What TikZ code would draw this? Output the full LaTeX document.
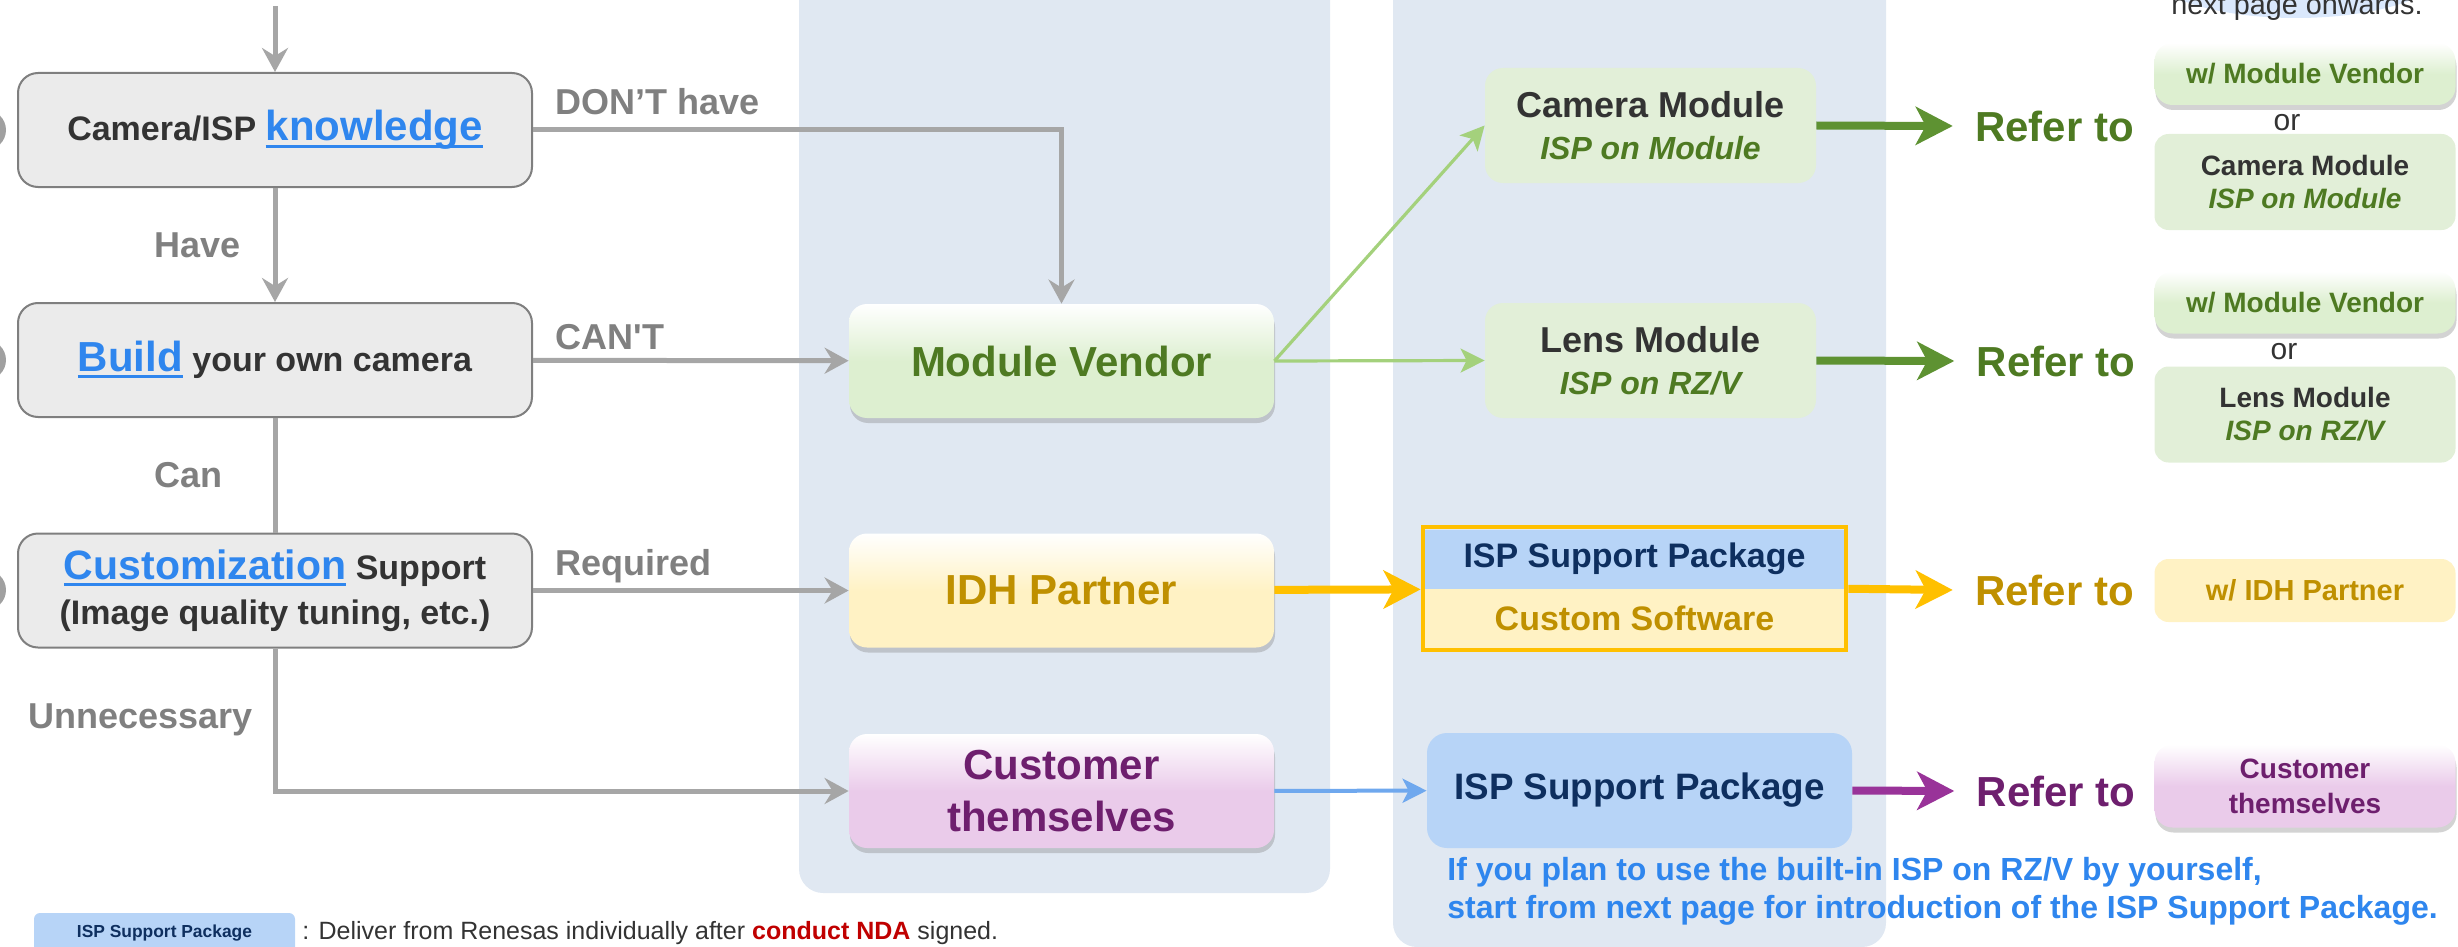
\documentclass[tikz,border=0pt]{standalone}
\usepackage{fontspec}
\setmainfont{Liberation Sans}
\usetikzlibrary{arrows.meta,shadows,fit,positioning}
\definecolor{panelbg}{HTML}{E0E8F2}
\definecolor{boxgray}{HTML}{EBEBEB}
\definecolor{edgegray}{HTML}{7F7F7F}
\definecolor{linegray}{HTML}{A6A6A6}
\definecolor{dotgray}{HTML}{A0A0A0}
\definecolor{txtgray}{HTML}{808080}
\definecolor{txtdark}{HTML}{333333}
\definecolor{linkblue}{HTML}{2F86EE}
\definecolor{mvfill}{HTML}{DDEFD0}
\definecolor{mpale}{HTML}{E2EFD8}
\definecolor{mvtext}{HTML}{4E7A22}
\definecolor{grnarrow}{HTML}{A4D17C}
\definecolor{grndark}{HTML}{5E9232}
\definecolor{idhfill}{HTML}{FFF2C4}
\definecolor{idhtext}{HTML}{BF9000}
\definecolor{amber}{HTML}{FFC000}
\definecolor{selffill}{HTML}{EACBEA}
\definecolor{selftext}{HTML}{6E1F6E}
\definecolor{purparrow}{HTML}{993399}
\definecolor{pkgfill}{HTML}{B7D4F7}
\definecolor{pkgtext}{HTML}{0E2F5F}
\definecolor{bluearrow}{HTML}{6FA8EE}
\definecolor{ndared}{HTML}{C00000}
\definecolor{bubble}{HTML}{DAE8FC}
\newcommand\linktext[1]{{\color{linkblue}\setbox0\hbox{#1}\rlap{\rule[-0.2em]{\wd0}{0.09em}}\box0}}
\tikzset{>={Stealth[length=12pt,width=13pt,inset=4pt]},
  qbox/.style={draw=edgegray,line width=1pt,fill=boxgray,rounded corners=10pt,
    minimum width=257pt,minimum height=57pt,align=center,text=txtdark,
    font=\bfseries\fontsize{17}{22.5}\selectfont},
  gloss/.style={rounded corners=9pt,top color=white,bottom color=#1,middle color=#1,
    drop shadow={shadow xshift=0.5pt,shadow yshift=-2.5pt,opacity=0.35}},
  vbox/.style={gloss=#1,minimum width=212.5pt,minimum height=57pt,align=center,
    font=\bfseries\fontsize{21}{26}\selectfont},
  mbox/.style={fill=mpale,rounded corners=9pt,minimum width=165.5pt,minimum height=57.5pt,
    align=center,text=txtdark,font=\bfseries\fontsize{18}{21}\selectfont},
  rbox/.style={rounded corners=7pt,minimum width=150.5pt,align=center,
    font=\bfseries\fontsize{14}{16.5}\selectfont},
  pkgbox/.style={fill=pkgfill,rounded corners=10pt,minimum width=212.5pt,minimum height=57.5pt,
    text=pkgtext,font=\bfseries\fontsize{18.4}{22}\selectfont},
  halfbox/.style={fill=#1,minimum width=209.5pt,minimum height=29.5pt,inner sep=0pt,
    font=\bfseries\fontsize{17}{20}\selectfont},
  lbl/.style={text=txtgray,inner sep=0pt,font=\bfseries\fontsize{18}{21}\selectfont},
  refto/.style={text=#1,inner xsep=11pt,inner ysep=2pt,font=\bfseries\fontsize{21}{25}\selectfont},
  orlbl/.style={text=txtdark,inner sep=0pt,font=\fontsize{15}{18}\selectfont},
  garrow/.style={draw=linegray,line width=2.5pt,->},
  gline/.style={draw=linegray,line width=2.5pt},
  larrow/.style={draw=#1,line width=1.6pt,-{Stealth[length=12pt,width=12pt,inset=3pt]}},
  fatarrow/.style={draw=#1,line width=4pt,-{Stealth[length=18.5pt,width=19pt,inset=5pt]}}}
\begin{document}
\begin{tikzpicture}[x=0.5pt,y=-0.5pt]
  \useasboundingbox (0,0) rectangle (2458,947);
  \clip (0,0) rectangle (2458,947);
  \fill[panelbg,rounded corners=12pt] (799,-40) rectangle (1330,893);
  \fill[panelbg,rounded corners=12pt] (1393,-40) rectangle (1886,947);
  \fill[bubble] (2296,-32) ellipse [x radius=75pt,y radius=25pt];
  \node[anchor=base,inner sep=0pt,text=txtdark,font=\fontsize{14.4}{17}\selectfont] (nextpg) at (2297,15) {next page onwards.};
  \foreach \y in {130,360,590}
    \fill[dotgray] (-14,\y) circle[radius=10pt];

  \node[qbox] (knw) at (275,130) {Camera/ISP \linktext{\fontsize{21}{24}\selectfont knowledge}};
  \node[qbox] (build) at (275,360) {\linktext{\fontsize{21}{24}\selectfont Build} your own camera};
  \node[qbox] (cust) at (275,590.5) {\linktext{\fontsize{20.5}{24}\selectfont Customization} Support\\(Image quality tuning, etc.)};

  \node[vbox=mvfill,text=mvtext] (mv) at (1061.5,361) {Module Vendor};
  \node[vbox=idhfill,text=idhtext] (idh) at (1061.5,590.5) {IDH Partner};
  \node[vbox=selffill,text=selftext] (self) at (1061.5,791) {Customer\\themselves};

  \node[mbox] (cam) at (1650.5,125.5) {Camera Module\\{\itshape\color{mvtext}\fontsize{16}{21}\selectfont ISP on Module}};
  \node[mbox] (lens) at (1650.5,360.5) {Lens Module\\{\itshape\color{mvtext}\fontsize{16}{21}\selectfont ISP on RZ/V}};
  \node[halfbox=pkgfill,text=pkgtext] (ispT) at (1634.5,559) {ISP Support Package};
  \node[halfbox=idhfill,text=idhtext] (ispB) at (1634.5,618.5) {Custom Software};
  \node[draw=amber,line width=2pt,fit=(ispT)(ispB),inner sep=1pt] (isp) {};
  \node[pkgbox] (pkg) at (1639.5,790.5) {ISP Support Package};
  \node[anchor=west,align=left,inner sep=0pt,text=linkblue,font=\bfseries\fontsize{16}{19}\selectfont] (note) at (1447,891)
    {If you plan to use the built-in ISP on RZ/V by yourself,\\start from next page for introduction of the ISP Support Package.};

  \node[refto=mvtext] (ref1) at (2054.5,126) {Refer to};
  \node[refto=mvtext] (ref2) at (2056,361) {Refer to};
  \node[refto=idhtext] (ref3) at (2054.5,590) {Refer to};
  \node[refto=selftext] (ref4) at (2056,791) {Refer to};

  \node[rbox,gloss=mvfill,minimum height=31pt,text=mvtext] (vend1) at (2305,74) {w/ Module Vendor};
  \node[orlbl] (or1) at (2287,123) {or};
  \node[rbox,fill=mpale,minimum height=48pt,text=txtdark] (camR) at (2305,182) {Camera Module\\{\itshape\color{mvtext}ISP on Module}};
  \node[rbox,gloss=mvfill,minimum height=31pt,text=mvtext] (vend2) at (2305,302.5) {w/ Module Vendor};
  \node[orlbl] (or2) at (2284,352) {or};
  \node[rbox,fill=mpale,minimum height=48pt,text=txtdark] (lensR) at (2305,414.5) {Lens Module\\{\itshape\color{mvtext}ISP on RZ/V}};
  \node[rbox,fill=idhfill,minimum height=31.5pt,text=idhtext,font=\bfseries\fontsize{14.5}{17}\selectfont] (idhR) at (2305,590.5) {w/ IDH Partner};
  \node[rbox,gloss=selffill,minimum height=41.5pt,text=selftext,font=\bfseries\fontsize{14}{17.5}\selectfont] (selfR) at (2305,786) {Customer\\themselves};

  \node[fill=pkgfill,rounded corners=3pt,minimum width=130.5pt,minimum height=20pt,text=pkgtext,font=\bfseries\fontsize{8.7}{10}\selectfont] (legend) at (164.5,933) {ISP Support Package};
  \node[right=0pt of legend,text=txtdark,font=\fontsize{12.5}{15}\selectfont] (legtxt)
    {: Deliver from Renesas individually after \textcolor{ndared}{\bfseries conduct NDA} signed.};

  \coordinate (entry) at (275,6);
  \draw[garrow] (entry) -- (knw);
  \draw[garrow] (knw) -- node[lbl,left=16pt] {Have} (build);
  \draw[gline] (build) -- node[lbl,left=25pt] {Can} (cust);
  \draw[garrow] (cust.south) |- node[lbl,pos=0.25,left=10pt] {Unnecessary} (self);
  \draw[garrow] (knw) -| node[lbl,pos=0,anchor=base west,xshift=10pt,yshift=7.5pt] {DON’T have} (mv);
  \draw[garrow] (build) -- node[lbl,pos=0,anchor=base west,xshift=10pt,yshift=5.5pt] {CAN\textquotesingle T} (mv);
  \draw[garrow] (cust) -- node[lbl,pos=0,anchor=base west,xshift=10pt,yshift=7.5pt] {Required} (idh);

  \draw[larrow=grnarrow] (mv.east) -- (cam.west);
  \draw[larrow=grnarrow] (mv.east) -- (lens.west);
  \draw[fatarrow=amber] (idh) -- (isp);
  \draw[larrow=bluearrow,line width=2pt] (self) -- (pkg);

  \draw[fatarrow=grndark] (cam.east) -- (ref1.west);
  \draw[fatarrow=grndark] (lens.east) -- (ref2.west);
  \draw[fatarrow=amber] (isp.east) -- (ref3.west);
  \draw[fatarrow=purparrow] (pkg.east) -- (ref4.west);
\end{tikzpicture}
\end{document}
